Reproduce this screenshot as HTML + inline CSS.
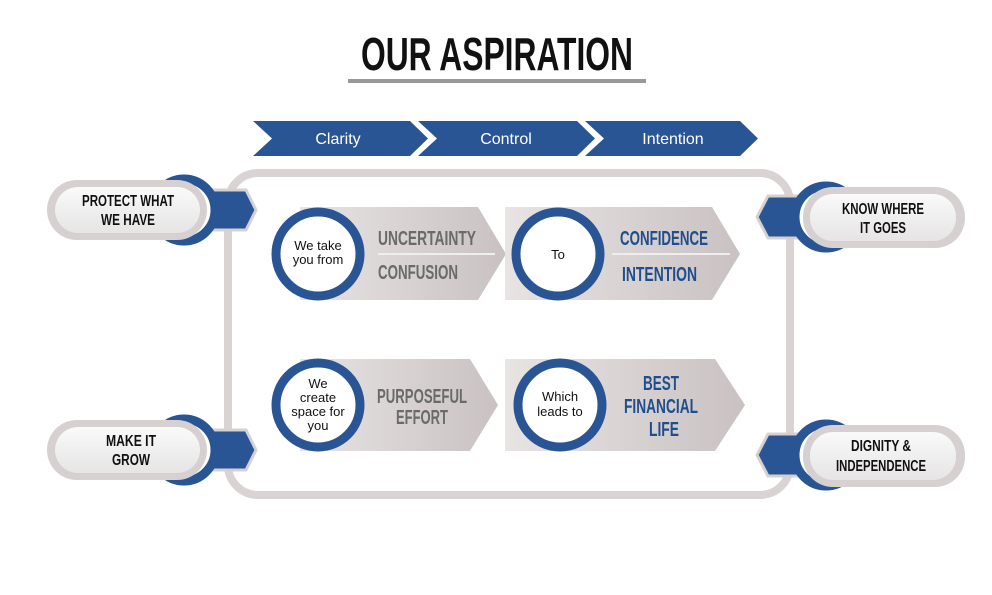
<!DOCTYPE html>
<html><head><meta charset="utf-8"><style>
html,body{margin:0;padding:0;background:#fff;width:992px;height:595px;overflow:hidden}
svg{display:block}
.c{font-family:"Liberation Sans Narrow","Liberation Sans",sans-serif;font-weight:bold}
.s{font-family:"Liberation Sans",sans-serif}
</style></head><body>
<svg width="992" height="595" viewBox="0 0 992 595" xmlns="http://www.w3.org/2000/svg">
<defs>
<linearGradient id="g" x1="0" x2="1"><stop offset="0" stop-color="#e8e4e4"/><stop offset="1" stop-color="#c9c1c2"/></linearGradient>
<linearGradient id="p" x1="0" y1="0" x2="0" y2="1"><stop offset="0" stop-color="#fafafa"/><stop offset="1" stop-color="#e6e4e5"/></linearGradient>
</defs>
<text x="497" y="70" text-anchor="middle" class="c" font-size="46" fill="#111" textLength="272" lengthAdjust="spacingAndGlyphs">OUR ASPIRATION</text>
<rect x="348" y="79" width="298" height="4" fill="#999"/>
<polygon points="253,121 410,121 428,138.5 410,156 253,156 272,138.5" fill="#2a5595"/>
<polygon points="418,121 577,121 595,138.5 577,156 418,156 437,138.5" fill="#2a5595"/>
<polygon points="585,121 740,121 758,138.5 740,156 585,156 604,138.5" fill="#2a5595"/>
<text x="338" y="144" text-anchor="middle" class="s" font-size="16" fill="#fff">Clarity</text>
<text x="506" y="144" text-anchor="middle" class="s" font-size="16" fill="#fff">Control</text>
<text x="673" y="144" text-anchor="middle" class="s" font-size="16" fill="#fff">Intention</text>
<rect x="228" y="173" width="562" height="322" rx="30" fill="none" stroke="#d9d3d3" stroke-width="8"/>
<polygon points="300,207 478,207 506,254 478,300 300,300" fill="url(#g)"/>
<polygon points="505,207 712,207 740,254 712,300 505,300" fill="url(#g)"/>
<polygon points="300,359 470,359 498,405 470,451 300,451" fill="url(#g)"/>
<polygon points="505,359 715,359 745,405 715,451 505,451" fill="url(#g)"/>
<line x1="378" y1="254" x2="495" y2="254" stroke="#eee" stroke-width="2"/>
<line x1="612" y1="254" x2="730" y2="254" stroke="#eee" stroke-width="2"/>
<g fill="#fff" stroke="#2a5595" stroke-width="9">
<circle cx="318" cy="254" r="42"/><circle cx="558" cy="254" r="42"/>
<circle cx="318" cy="405" r="42"/><circle cx="560" cy="405" r="42"/>
</g>
<g class="s" font-size="13" fill="#111" text-anchor="middle">
<text x="318" y="250">We take</text><text x="318" y="264">you from</text>
<text x="558" y="259">To</text>
<text x="318" y="388">We</text><text x="318" y="402">create</text><text x="318" y="416">space for</text><text x="318" y="430">you</text>
<text x="560" y="401">Which</text><text x="560" y="416">leads to</text>
</g>
<g class="c" font-size="20">
<text x="378" y="245" fill="#6a6a6a" textLength="98" lengthAdjust="spacingAndGlyphs">UNCERTAINTY</text>
<text x="378" y="279" fill="#6a6a6a" textLength="80" lengthAdjust="spacingAndGlyphs">CONFUSION</text>
<text x="620" y="245" fill="#1f4e8c" textLength="88" lengthAdjust="spacingAndGlyphs">CONFIDENCE</text>
<text x="622" y="281" fill="#1f4e8c" textLength="75" lengthAdjust="spacingAndGlyphs">INTENTION</text>
<text x="422" y="403" fill="#6a6a6a" text-anchor="middle" textLength="90" lengthAdjust="spacingAndGlyphs">PURPOSEFUL</text>
<text x="422" y="424" fill="#6a6a6a" text-anchor="middle" textLength="52" lengthAdjust="spacingAndGlyphs">EFFORT</text>
<text x="661" y="390" fill="#1f4e8c" text-anchor="middle" textLength="36" lengthAdjust="spacingAndGlyphs">BEST</text>
<text x="661" y="413" fill="#1f4e8c" text-anchor="middle" textLength="74" lengthAdjust="spacingAndGlyphs">FINANCIAL</text>
<text x="664" y="436" fill="#1f4e8c" text-anchor="middle" textLength="30" lengthAdjust="spacingAndGlyphs">LIFE</text>
</g>
<g>
<polygon points="205,190 246,190 256,210 246,230 205,230" fill="#2a5595" stroke="#d6d0d0" stroke-width="3"/>
<circle cx="184" cy="210" r="31" fill="#fff" stroke="#2a5595" stroke-width="9"/>
<rect x="47" y="180" width="160" height="60" rx="30" fill="#d6d0d0"/>
<rect x="55" y="187" width="145" height="46" rx="23" fill="url(#p)"/>
<text x="128" y="206" text-anchor="middle" class="c" font-size="16" fill="#111" textLength="92" lengthAdjust="spacingAndGlyphs">PROTECT WHAT</text>
<text x="128" y="225" text-anchor="middle" class="c" font-size="16" fill="#111" textLength="54" lengthAdjust="spacingAndGlyphs">WE HAVE</text>
</g>
<g>
<polygon points="205,430 246,430 256,450 246,470 205,470" fill="#2a5595" stroke="#d6d0d0" stroke-width="3"/>
<circle cx="184" cy="450" r="31" fill="#fff" stroke="#2a5595" stroke-width="9"/>
<rect x="47" y="420" width="160" height="60" rx="30" fill="#d6d0d0"/>
<rect x="55" y="427" width="145" height="46" rx="23" fill="url(#p)"/>
<text x="131" y="446" text-anchor="middle" class="c" font-size="16" fill="#111" textLength="50" lengthAdjust="spacingAndGlyphs">MAKE IT</text>
<text x="131" y="465" text-anchor="middle" class="c" font-size="16" fill="#111" textLength="38" lengthAdjust="spacingAndGlyphs">GROW</text>
</g>
<g>
<polygon points="800,196 768,196 757,217 768,238 800,238" fill="#2a5595" stroke="#d6d0d0" stroke-width="3"/>
<circle cx="826" cy="217" r="31" fill="#fff" stroke="#2a5595" stroke-width="9"/>
<rect x="803" y="187" width="162" height="61" rx="30" fill="#d6d0d0"/>
<rect x="810" y="194" width="146" height="47" rx="23" fill="url(#p)"/>
<text x="883" y="214" text-anchor="middle" class="c" font-size="16" fill="#111" textLength="82" lengthAdjust="spacingAndGlyphs">KNOW WHERE</text>
<text x="883" y="233" text-anchor="middle" class="c" font-size="16" fill="#111" textLength="46" lengthAdjust="spacingAndGlyphs">IT GOES</text>
</g>
<g>
<polygon points="800,434 768,434 757,455 768,476 800,476" fill="#2a5595" stroke="#d6d0d0" stroke-width="3"/>
<circle cx="826" cy="455" r="31" fill="#fff" stroke="#2a5595" stroke-width="9"/>
<rect x="803" y="425" width="162" height="62" rx="30" fill="#d6d0d0"/>
<rect x="810" y="432" width="146" height="48" rx="23" fill="url(#p)"/>
<text x="881" y="451" text-anchor="middle" class="c" font-size="16" fill="#111" textLength="60" lengthAdjust="spacingAndGlyphs">DIGNITY &amp;</text>
<text x="881" y="471" text-anchor="middle" class="c" font-size="16" fill="#111" textLength="90" lengthAdjust="spacingAndGlyphs">INDEPENDENCE</text>
</g>
</svg>
</body></html>
